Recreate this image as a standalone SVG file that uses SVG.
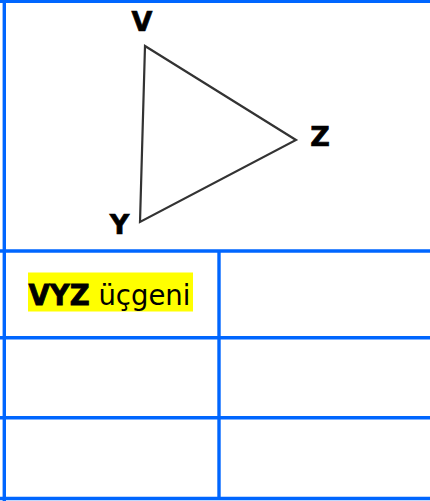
<svg xmlns="http://www.w3.org/2000/svg" width="430" height="501" viewBox="0 0 430 501">
<style>
.grid{stroke:#0066ff;stroke-width:3.4;fill:none}
.edge{stroke:#333;stroke-width:2.2;fill:none;stroke-linejoin:miter}
.lbl{font-family:"DejaVu Sans",Verdana,sans-serif;font-weight:bold;font-size:27px;fill:#000;stroke:#000;stroke-width:0.7;text-anchor:middle}
.cell{font-family:"DejaVu Sans",Verdana,sans-serif;font-size:27.5px;fill:#000}
.heavy{font-weight:bold;stroke:#000;stroke-width:0.8}
</style>
<rect x="0" y="0" width="430" height="501" fill="#fff"/>
<g id="table">
<line class="grid" x1="0" y1="1.2" x2="430" y2="1.2"/>
<line class="grid" x1="4.3" y1="0" x2="4.3" y2="501"/>
<line class="grid" x1="0" y1="251" x2="430" y2="251"/>
<line class="grid" x1="0" y1="337.7" x2="430" y2="337.7"/>
<line class="grid" x1="0" y1="417.7" x2="430" y2="417.7"/>
<line class="grid" x1="0" y1="498.5" x2="430" y2="498.5"/>
<line class="grid" x1="219" y1="251" x2="219" y2="498.5"/>
</g>
<g id="triangle">
<polygon class="edge" points="145,46 296,140 140,222"/>
</g>
<g id="label-V"><text class="lbl" x="142" y="31">V</text></g>
<g id="label-Y"><text class="lbl" x="119.5" y="234">Y</text></g>
<g id="label-Z"><text class="lbl" x="320" y="146">Z</text></g>
<g id="cell-label">
<rect x="28" y="272.5" width="165" height="39" fill="#ffff00"/>
<text class="cell" x="28.5" y="304.5"><tspan class="heavy">VYZ</tspan> üçgeni</text>
</g>
</svg>
